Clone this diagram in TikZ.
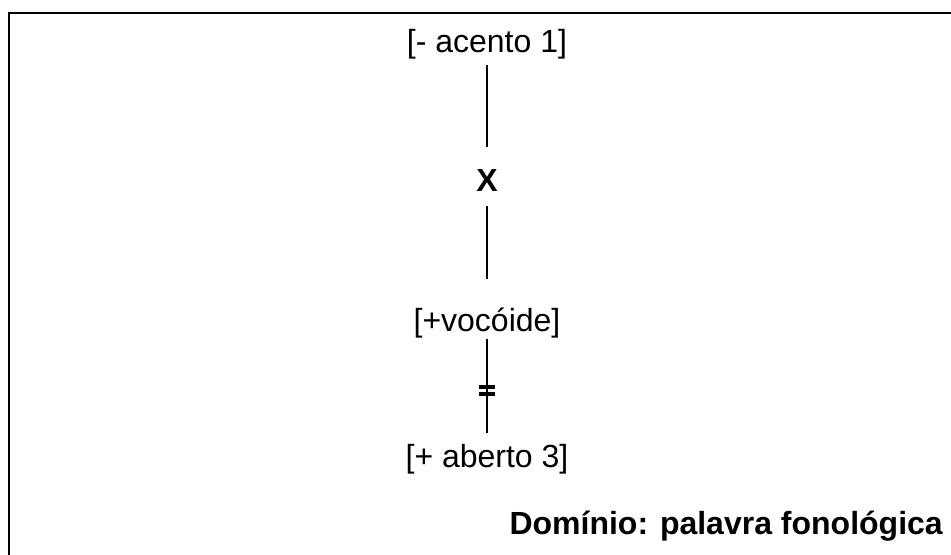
\documentclass[tikz,border=0pt]{standalone}
\usepackage{fontspec}
\setmainfont{Liberation Sans}
\begin{document}
\begin{tikzpicture}[x=0.75pt, y=-0.75pt,
  feat/.style={anchor=base, inner sep=0pt, font=\fontsize{24}{28}\selectfont},
  link/.style={line width=1.5pt},
  bar/.style={line width=2.6pt},
  frame/.style={line width=2pt}]
\useasboundingbox (0,0) rectangle (951,555);
\draw[frame] (960,13) -- (9,13) -- (9,560);
\node[feat] (acento) at (487,53) {[- acento 1]};
\node[feat, font=\fontsize{24}{28}\selectfont\bfseries] (x) at (487,192) {X};
\node[feat] (vocoide) at (487,332) {[+voc\'oide]};
\node[feat] (aberto) at (487,468) {[+ aberto 3]};
\node[feat, anchor=base east, font=\fontsize{24}{28}\selectfont\bfseries] (dominio) at (943,535) {Dom\'inio: palavra fonol\'ogica};
\draw[link, shorten <=4pt, shorten >=17pt] (acento.south) -- (x.north);
\draw[link, shorten <=10pt, shorten >=22pt] (x.south) -- (vocoide.north);
\draw[link, shorten >=9pt] (vocoide.south) -- coordinate[pos=0.49] (cut) (aberto.north);
\draw[bar] ([shift={(-8,-3.5)}]cut) -- ([shift={(8,-3.5)}]cut);
\draw[bar] ([shift={(-8,3.5)}]cut) -- ([shift={(8,3.5)}]cut);
\end{tikzpicture}
\end{document}
